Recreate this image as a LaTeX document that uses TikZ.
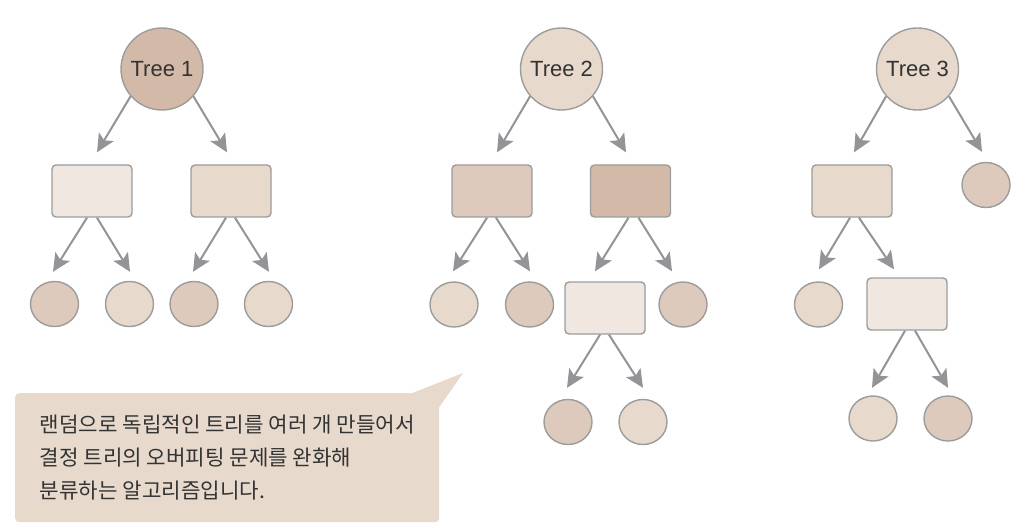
\documentclass[tikz,border=0pt]{standalone}
\usepackage{fontspec}
\setmainfont{Liberation Sans}
\newfontfamily\krfont{Noto Sans CJK KR}
\usepackage{tikz}
\usetikzlibrary{arrows.meta,shapes.geometric}

\definecolor{tonedark}{HTML}{D3B9A7}
\definecolor{tonemid}{HTML}{DDCABC}
\definecolor{tonelight}{HTML}{E7D9CC}
\definecolor{tonepale}{HTML}{F0E7E1}
\definecolor{edgegray}{HTML}{9C9C9C}
\definecolor{arrowgray}{HTML}{939498}
\definecolor{inkgray}{HTML}{333333}
\definecolor{notefill}{HTML}{E7D9CC}

\begin{document}
\begin{tikzpicture}[x=1pt, y=-1pt, >={Stealth[length=18pt,width=17pt,inset=4pt]},
    treeroot/.style={circle, draw=edgegray, line width=1.4pt, minimum size=82pt, inner sep=0pt,
        text=inkgray, font=\fontsize{22}{26}\selectfont},
    split/.style={rectangle, rounded corners=4pt, draw=edgegray, line width=1.4pt,
        minimum width=80pt, minimum height=52pt},
    leaf/.style={ellipse, draw=edgegray, line width=1.4pt, minimum width=48pt, minimum height=45pt},
    arr/.style={->, draw=arrowgray, fill=arrowgray, line width=2pt}]

    % Canvas
    \useasboundingbox (0,0) rectangle (1024,529);

    % Tree 1
    \node[treeroot, fill=tonedark] (r1) at (162,69) {Tree 1};
    \node[split, fill=tonepale] (r1a) at (92,191) {};
    \node[split, fill=tonelight] (r1b) at (231,191) {};
    \node[leaf, fill=tonemid] (r1aa) at (54.5,304) {};
    \node[leaf, fill=tonelight] (r1ab) at (129.5,304) {};
    \node[leaf, fill=tonemid] (r1ba) at (194,304) {};
    \node[leaf, fill=tonelight] (r1bb) at (268.5,304) {};

    \draw[arr] (r1.-139) -- ([xshift=5pt,yshift=12pt]r1a.north);
    \draw[arr] (r1.-41) -- ([xshift=-4pt,yshift=12pt]r1b.north);
    \draw[arr] ([xshift=-5pt]r1a.south) -- ([xshift=-1.5pt,yshift=9pt]r1aa.north);
    \draw[arr] ([xshift=5pt]r1a.south) -- ([xshift=0.5pt,yshift=9pt]r1ab.north);
    \draw[arr] ([xshift=-5pt]r1b.south) -- ([xshift=-1pt,yshift=9pt]r1ba.north);
    \draw[arr] ([xshift=4pt]r1b.south) -- ([xshift=0.5pt,yshift=9pt]r1bb.north);

    % Tree 2
    \node[treeroot, fill=tonelight] (r2) at (561.5,69) {Tree 2};
    \node[split, fill=tonemid] (r2a) at (492,191) {};
    \node[split, fill=tonedark] (r2b) at (630.5,191) {};
    \node[leaf, fill=tonelight] (r2aa) at (454,304.5) {};
    \node[leaf, fill=tonemid] (r2ab) at (529.5,304.5) {};
    \node[split, fill=tonepale] (r2ba) at (605,308) {};
    \node[leaf, fill=tonemid] (r2bb) at (683,304.5) {};
    \node[leaf, fill=tonemid] (r2baa) at (568,422) {};
    \node[leaf, fill=tonelight] (r2bab) at (643,422) {};

    \draw[arr] (r2.-139) -- ([xshift=5pt,yshift=12pt]r2a.north);
    \draw[arr] (r2.-41) -- ([xshift=-4.5pt,yshift=12pt]r2b.north);
    \draw[arr] ([xshift=-5pt]r2a.south) -- ([xshift=-1pt,yshift=10pt]r2aa.north);
    \draw[arr] ([xshift=4pt]r2a.south) -- ([xshift=0.5pt,yshift=10pt]r2ab.north);
    \draw[arr] ([xshift=-2pt]r2b.south) -- ([xshift=-10pt,yshift=10pt]r2ba.north);
    \draw[arr] ([xshift=8pt]r2b.south) -- ([xshift=-11pt,yshift=10pt]r2bb.north);
    \draw[arr] ([xshift=-5pt]r2ba.south) -- ([xshift=-1pt,yshift=11pt]r2baa.north);
    \draw[arr] ([xshift=4pt]r2ba.south) -- ([yshift=11pt]r2bab.north);

    % Tree 3
    \node[treeroot, fill=tonelight] (r3) at (917.5,69) {Tree 3};
    \node[split, fill=tonelight] (r3a) at (852,191) {};
    \node[leaf, fill=tonemid] (r3b) at (986,185) {};
    \node[leaf, fill=tonelight] (r3aa) at (818.5,304.5) {};
    \node[split, fill=tonepale] (r3ab) at (907,304) {};
    \node[leaf, fill=tonelight] (r3aba) at (873,418.5) {};
    \node[leaf, fill=tonemid] (r3abb) at (948,418.5) {};

    \draw[arr] (r3.-139) -- ([xshift=2pt,yshift=12pt]r3a.north);
    \draw[arr] (r3.-41) -- ([xshift=-4pt,yshift=10pt]r3b.north);
    \draw[arr] ([xshift=-2pt]r3a.south) -- ([xshift=0.5pt,yshift=12pt]r3aa.north);
    \draw[arr] ([xshift=7pt]r3a.south) -- ([xshift=-13pt,yshift=8pt]r3ab.north);
    \draw[arr] ([xshift=-2pt]r3ab.south) -- ([xshift=-1pt,yshift=7.5pt]r3aba.north);
    \draw[arr] ([xshift=8pt]r3ab.south) -- ([yshift=7.5pt]r3abb.north);

    % Callout
    \coordinate (tip) at (463,373);
    \node[rectangle, rounded corners=4pt, fill=notefill, anchor=north west, minimum width=424pt,
        minimum height=129pt, inner xsep=0pt, align=left, text=inkgray,
        font=\krfont\fontsize{21.2}{33}\selectfont] (note) at (15,393)
        {랜덤으로 독립적인 트리를 여러 개 만들어서\\결정 트리의 오버피팅 문제를 완화해\\분류하는 알고리즘입니다.};
    \fill[notefill] ([xshift=-27pt]note.north east) -- (tip) -- ([yshift=-14pt]note.north east) -- cycle;
\end{tikzpicture}
\end{document}
